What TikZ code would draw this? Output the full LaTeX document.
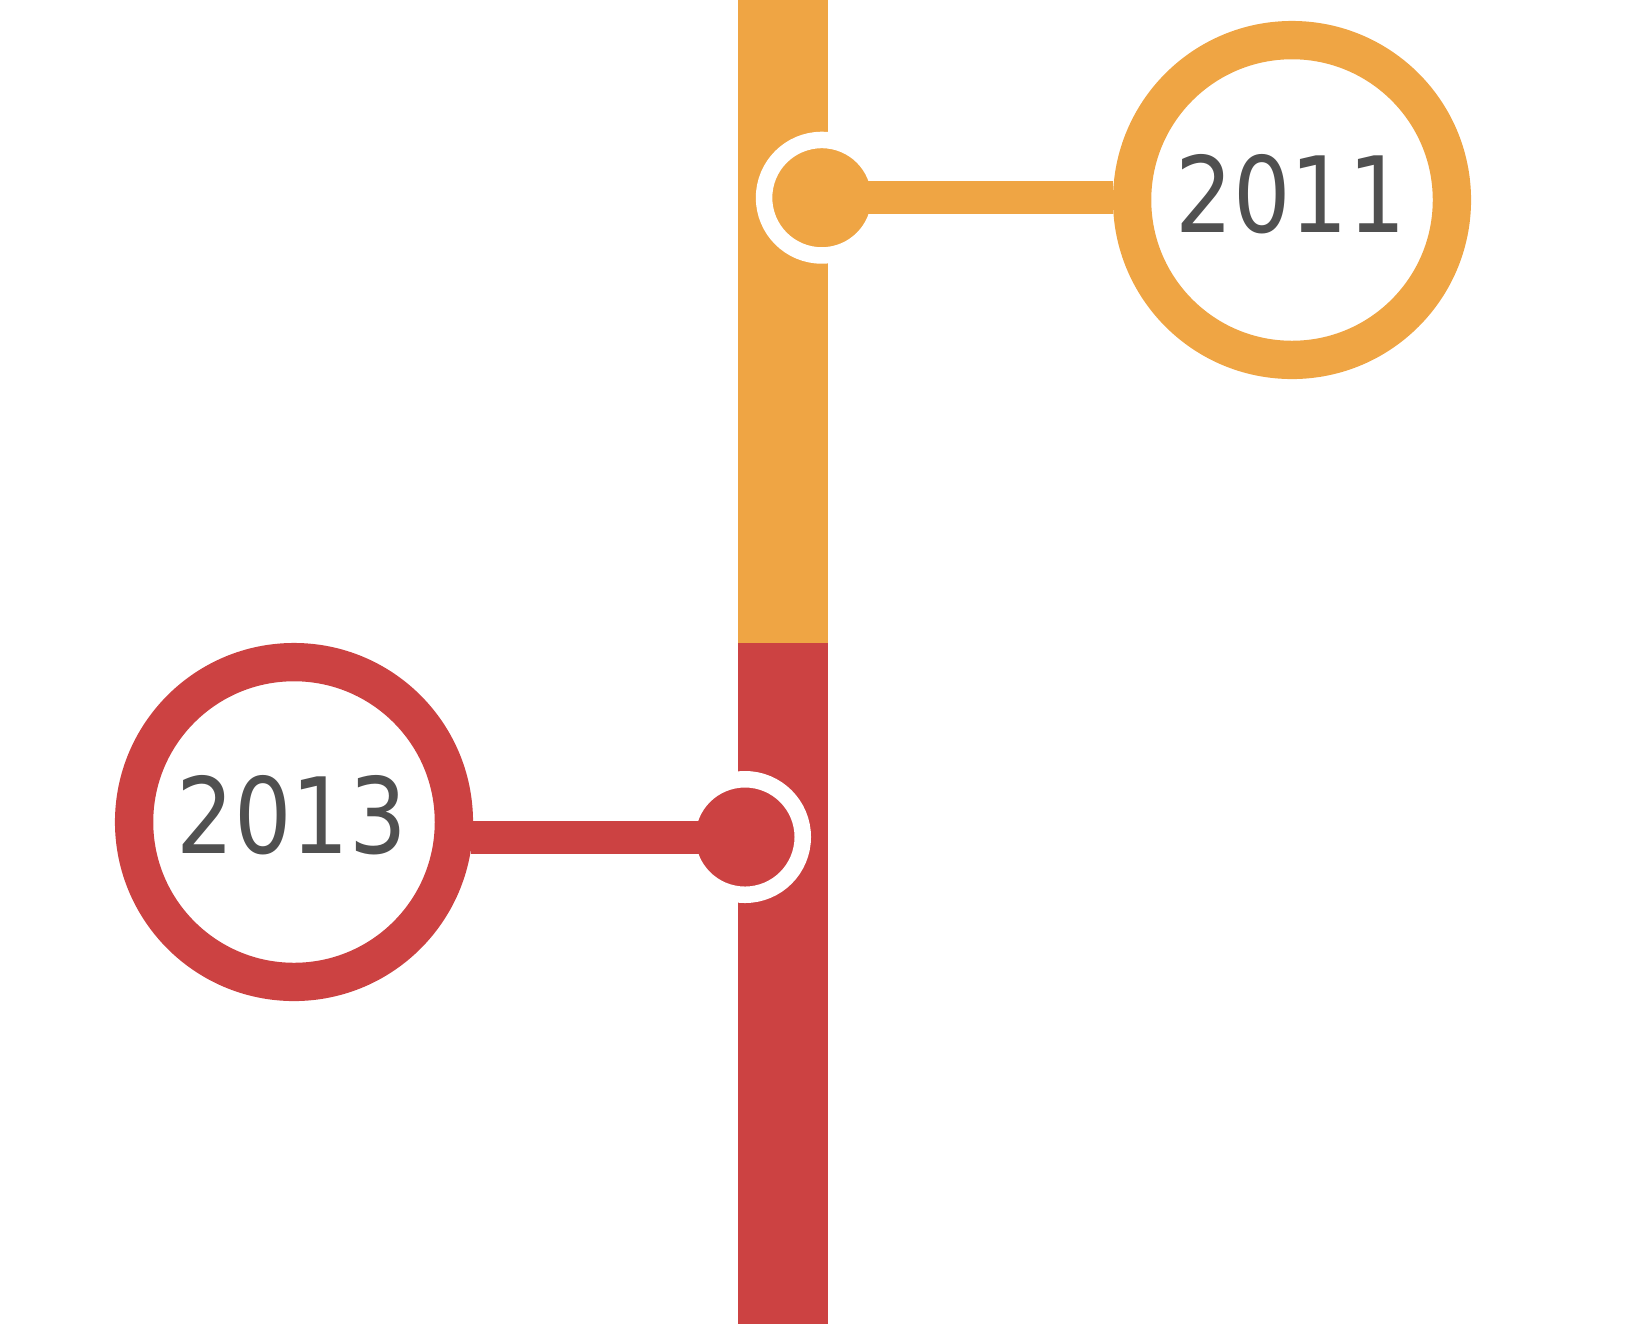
\documentclass[tikz,border=0pt]{standalone}
\usepackage{fontspec}
\setmainfont{DejaVu Sans}
\newfontfamily\yearfont[FakeStretch=0.86]{DejaVu Sans}
\definecolor{tlorange}{RGB}{239,165,68}
\definecolor{tlred}{RGB}{204,66,66}
\definecolor{yeartext}{RGB}{80,80,80}
\begin{document}
\begin{tikzpicture}[x=0.5pt,y=-0.5pt,
  bigring/.style={circle, draw=#1, fill=white, line width=19.15pt, minimum size=159.9pt, inner sep=0pt},
  dotnode/.style={circle, fill=#1, draw=white, line width=8.25pt, minimum size=57.75pt, inner sep=0pt},
  link/.style={draw=#1, line width=16.5pt},
  year/.style={text=yeartext, font=\yearfont\fontsize{52.6pt}{60pt}\selectfont, inner sep=0pt}]
\useasboundingbox (0,0) rectangle (1636,1324);
\fill[tlorange] (738,0) rectangle (828,643);
\fill[tlred] (738,643) rectangle (828,1324);
% 2011
\node[bigring=tlorange] (b2011) at (1292,200) {};
\node[year] (t2011) at (1291,194) {2011};
\node[dotnode=tlorange] (d2011) at (821.8,197.7) {};
\draw[link=tlorange] (d2011.center) -- (d2011.center -| b2011.west);
% 2013
\node[bigring=tlred] (b2013) at (294,822) {};
\node[year] (t2013) at (291.7,815.5) {2013};
\node[dotnode=tlred] (d2013) at (745,837) {};
\draw[link=tlred] (d2013.center) -- ([xshift=-1.2pt]d2013.center -| b2013.east);
\end{tikzpicture}
\end{document}
